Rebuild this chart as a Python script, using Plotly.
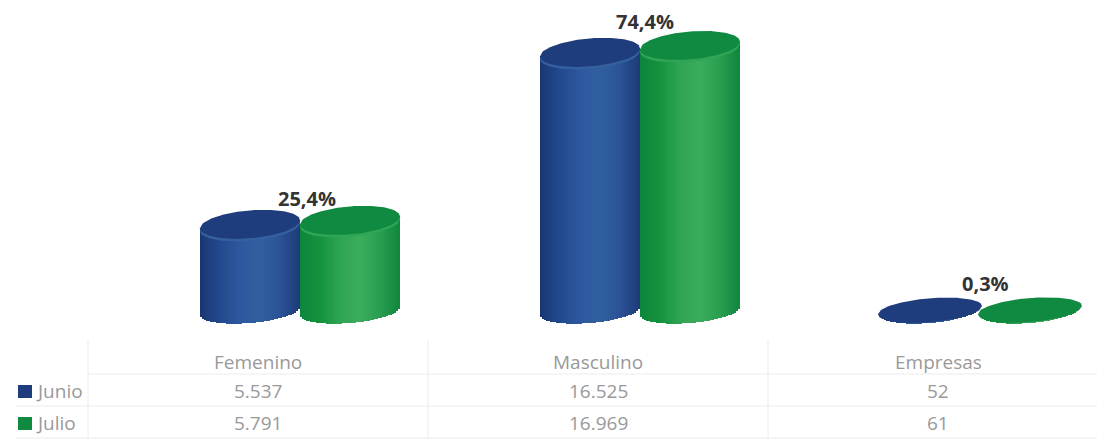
import numpy as np
import plotly.graph_objects as go

categories = ["Femenino", "Masculino", "Empresas"]
junio = [5537, 16525, 52]
julio = [5791, 16969, 61]
pct_labels = ["25,4%", "74,4%", "0,3%"]
series_names = ["Junio", "Julio"]

W, H = 1097, 439
CAT_PX = 340.0      # pixels per category
C0_PX = 300.0       # pixel x of first category
BASE_PX = 311.0     # pixel y of value 0
PX_PER_VAL = 0.01565
TABLE_DX = -42.0    # table column centre relative to bars
A_PX, B_PX, SLOPE = 50.0, 12.0, 0.08
N = 50

x_range = [(0 - C0_PX) / CAT_PX, (W - C0_PX) / CAT_PX]
y_range = [(BASE_PX - H) / PX_PER_VAL, BASE_PX / PX_PER_VAL]

styles = {
    "Junio": dict(off=-50.0, cap="#1f3c7c", rim="#35609f", swatch="#1f3c7c",
                  stops=["#1a3772", "#234a8e", "#2d589f", "#31609f", "#2b5396", "#1c3b78"]),
    "Julio": dict(off=50.0, cap="#0f8a40", rim="#2fa555", swatch="#0f8a40",
                  stops=["#0e853c", "#15933f", "#2fa553", "#3bad5c", "#2a9e50", "#0f873e"]),
}


def lerp_colors(stops, t):
    rgb = np.array([[int(s[i:i + 2], 16) for i in (1, 3, 5)] for s in stops], float)
    p = np.linspace(0, 1, len(stops))
    return "rgb(%d,%d,%d)" % tuple(np.interp(t, p, rgb[:, k]) for k in range(3))


def cap_polygon(xc_px, v, a, b, shift_px=0.0):
    t = np.linspace(-1, 1, 81)
    dx = a * t
    up = SLOPE * dx + b * np.sqrt(1 - t ** 2)
    lo = SLOPE * dx - b * np.sqrt(1 - t ** 2)
    xs = np.r_[dx, dx[::-1]]
    ys = np.r_[up, lo[::-1]] - shift_px
    return (xc_px + xs - C0_PX) / CAT_PX, v + ys / PX_PER_VAL


fig = go.Figure()

for name, values in zip(series_names, [junio, julio]):
    st = styles[name]
    xs, bases, heights, widths, cols = [], [], [], [], []
    for i, v in enumerate(values):
        xc = C0_PX + i * CAT_PX + st["off"]
        edges = np.linspace(-1, 1, N + 1)
        for a, b in zip(edges[:-1], edges[1:]):
            t = (a + b) / 2
            dx = A_PX * t
            base = (SLOPE * dx - B_PX * np.sqrt(1 - t ** 2)) / PX_PER_VAL
            top = v + SLOPE * dx / PX_PER_VAL
            xs.append((xc + dx - C0_PX) / CAT_PX)
            bases.append(base)
            heights.append(top - base)
            widths.append((b - a) * A_PX * 1.15 / CAT_PX)
            cols.append(lerp_colors(st["stops"], (t + 1) / 2))
    fig.add_trace(go.Bar(x=xs, y=heights, base=bases, width=widths, name=name,
                         marker=dict(color=cols, line=dict(width=0)),
                         showlegend=False, hoverinfo="skip"))

for name, values in zip(series_names, [junio, julio]):
    st = styles[name]
    for i, v in enumerate(values):
        xc = C0_PX + i * CAT_PX + st["off"]
        tall = v > 1000
        a, b = (A_PX, 14.0) if tall else (52.0, 12.0)
        if tall:
            px_, py_ = cap_polygon(xc, v, a, b, 2.5)
            fig.add_trace(go.Scatter(x=px_, y=py_, mode="lines", fill="toself",
                                     fillcolor=st["rim"], line=dict(width=0),
                                     showlegend=False, hoverinfo="skip"))
        px_, py_ = cap_polygon(xc, v, a, b)
        fig.add_trace(go.Scatter(x=px_, y=py_, mode="lines", fill="toself",
                                 fillcolor=st["cap"], line=dict(width=0),
                                 showlegend=False, hoverinfo="skip"))

annotations = []
label_dx_px = [7, 5, 5]
label_shift = [22, 24, 27]
for i, lab in enumerate(pct_labels):
    annotations.append(dict(x=i + label_dx_px[i] / CAT_PX, y=julio[i],
                            xref="x", yref="y", text=f"<b>{lab}</b>", showarrow=False,
                            yshift=label_shift[i], xanchor="center", yanchor="middle",
                            font=dict(family="Open Sans, DejaVu Sans", size=20, color="#333333")))


def yp(px):
    return 1 - px / H


def fmt(n):
    return f"{n:,}".replace(",", ".")


TXT = dict(family="Open Sans, DejaVu Sans", size=19, color="#999999")
HEADER_Y, ROW_Y = 362, [391, 423]
for i, c in enumerate(categories):
    xc = i + TABLE_DX / CAT_PX
    annotations.append(dict(x=xc, y=yp(HEADER_Y), xref="x", yref="paper", text=c, showarrow=False,
                            xanchor="center", yanchor="middle", font=TXT))
    for r, vals in enumerate([junio, julio]):
        annotations.append(dict(x=xc, y=yp(ROW_Y[r]), xref="x", yref="paper", text=fmt(vals[i]),
                                showarrow=False, xanchor="center", yanchor="middle", font=TXT))

shapes = []
LINE = dict(color="#ececec", width=1)
for py in (374, 406, 438):
    shapes.append(dict(type="line", xref="paper", yref="paper", x0=(16 if py > 374 else 88) / W, x1=1,
                       y0=yp(py), y1=yp(py), line=LINE, layer="below"))
for px in (88, 428, 768):
    shapes.append(dict(type="line", xref="paper", yref="paper", x0=px / W, x1=px / W,
                       y0=yp(340), y1=yp(439), line=LINE, layer="below"))

for r, name in enumerate(series_names):
    y = ROW_Y[r]
    shapes.append(dict(type="rect", xref="paper", yref="paper", x0=18 / W, x1=32 / W,
                       y0=yp(y + 7), y1=yp(y - 6), fillcolor=styles[name]["swatch"], line=dict(width=0)))
    annotations.append(dict(x=34 / W, y=yp(y), xref="paper", yref="paper", text=name, showarrow=False,
                            xanchor="left", yanchor="middle", font=TXT))

fig.update_layout(
    width=W, height=H, margin=dict(l=0, r=0, t=0, b=0),
    paper_bgcolor="white", plot_bgcolor="white",
    barmode="overlay", bargap=0, showlegend=False,
    xaxis=dict(range=x_range, visible=False, fixedrange=True),
    yaxis=dict(range=y_range, visible=False, fixedrange=True),
    annotations=annotations, shapes=shapes,
)

fig.write_html("out.html", config={"displayModeBar": False},
               post_script="document.body.style.margin='0';")
